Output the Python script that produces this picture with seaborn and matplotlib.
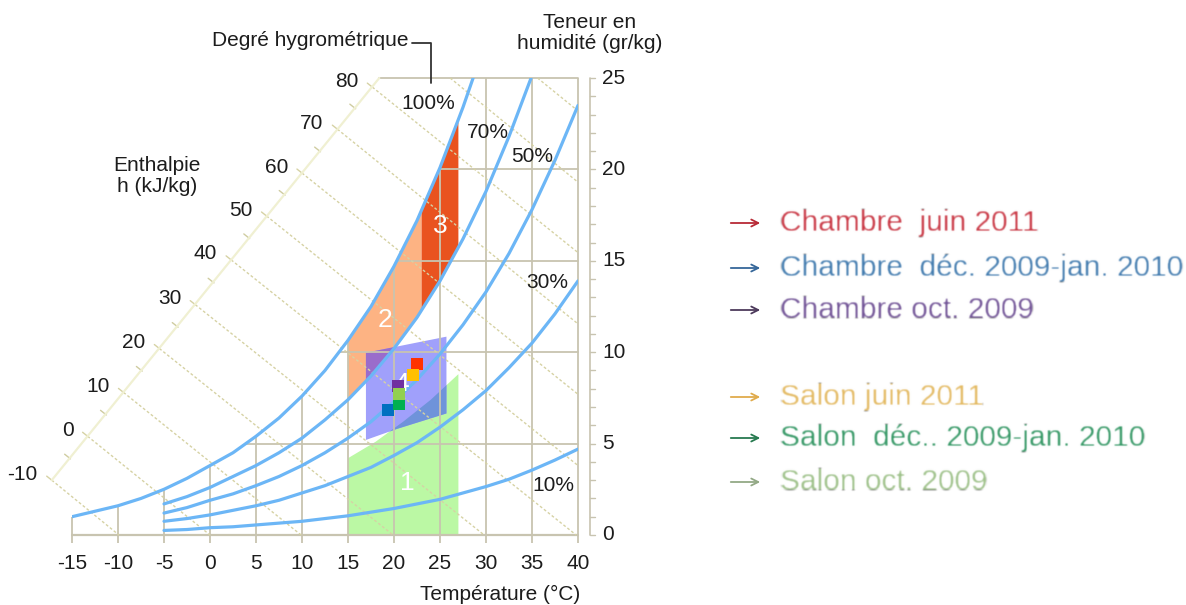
import numpy as np
import pandas as pd
import matplotlib
matplotlib.use("Agg")
import matplotlib.pyplot as plt
from matplotlib.patches import Polygon, FancyArrowPatch
from matplotlib.lines import Line2D
import seaborn as sns

# ---------------------------------------------------------------------------
# Relative-humidity curves: dry-bulb temperature (°C) vs moisture content (g/kg)
# ---------------------------------------------------------------------------
t_rh100 = [-15, -12.5, -10, -7.5, -5, -2.5, 0, 2.5, 5, 7.5, 10, 12.5, 15,
           17.5, 20, 22.5, 25, 27.5, 28.6]
w_rh100 = [1.0, 1.3, 1.6, 2.0, 2.5, 3.1, 3.8, 4.5, 5.4, 6.4, 7.6, 9.0, 10.65,
           12.5, 14.7, 17.2, 20.1, 23.4, 25.0]

t_rh = [-5, -2.5, 0, 2.5, 5, 7.5, 10, 12.5, 15, 17.5, 20, 22.5, 25, 27.5,
        30, 32.5, 35, 37.5, 40]
t_rh70 = [-5, -2.5, 0, 2.5, 5, 7.5, 10, 12.5, 15, 17.5, 20, 22.5, 25, 27.5,
          30, 32.5, 34.9]
w_rh70 = [1.7, 2.1, 2.6, 3.2, 3.8, 4.5, 5.3, 6.3, 7.4, 8.7, 10.2, 11.9, 13.9,
          16.2, 18.8, 21.8, 25.0]
w_rh50 = [1.2, 1.5, 1.9, 2.25, 2.7, 3.2, 3.8, 4.5, 5.3, 6.2, 7.3, 8.5, 9.9,
          11.5, 13.3, 15.4, 17.8, 20.5, 23.5]
w_rh30 = [0.75, 0.9, 1.1, 1.35, 1.6, 1.9, 2.3, 2.7, 3.2, 3.7, 4.35, 5.05, 5.9,
          6.85, 7.9, 9.15, 10.5, 12.1, 13.9]
w_rh10 = [0.25, 0.3, 0.4, 0.45, 0.55, 0.65, 0.75, 0.9, 1.05, 1.25, 1.45, 1.7,
          1.95, 2.3, 2.65, 3.05, 3.55, 4.1, 4.7]

# Constant-enthalpy lines (kJ/kg): start on the enthalpy scale, end on the frame
h_values = [-10, 0, 10, 20, 30, 40, 50, 60, 70, 80, 90, 100]
h_start_t = [-17.2, -13.3, -9.4, -5.5, -1.6, 2.3, 6.15, 10.0, 13.85, 17.65, 26.1, 35.6]
h_start_w = [3.0, 5.4, 7.8, 10.2, 12.6, 15.05, 17.45, 19.8, 22.2, 24.5, 25.0, 25.0]
h_end_t = [-9.9, 0.0, 9.9, 19.9, 29.8, 39.8, 40, 40, 40, 40, 40, 40]
h_end_w = [0, 0, 0, 0, 0, 0, 3.8, 7.7, 11.55, 15.45, 19.3, 23.2]
h_scale_ends = [(-17.2, 3.0), (18.4, 25.0)]

# Axis ticks
temp_ticks = [-15, -10, -5, 0, 5, 10, 15, 20, 25, 30, 35, 40]
moist_ticks = [0, 5, 10, 15, 20, 25]

# Comfort zones 1-4 (temperature, moisture) outlines
zone1_t = [15, 15, 18, 21, 24, 27, 27]
zone1_w = [0, 4.2, 5.1, 6.2, 7.4, 8.8, 0]
zone2_t = [15, 15, 17.5, 20, 22.5, 23, 23, 22.5, 20, 17.5]
zone2_w = [7.4, 10.65, 12.5, 14.7, 17.2, 17.7, 12.3, 11.9, 10.2, 8.7]
zone3_t = [23, 23, 25, 27, 27, 25]
zone3_w = [12.3, 17.7, 20.1, 22.6, 15.7, 13.9]
zone4_t = [16.95, 25.7, 25.7, 20.3, 16.95]
zone4_w = [9.97, 10.85, 6.65, 5.8, 5.2]

# Measured mean conditions per room and period
series = ["Chambre  juin 2011", "Chambre  déc. 2009-jan. 2010", "Chambre oct. 2009",
          "Salon juin 2011", "Salon  déc.. 2009-jan. 2010", "Salon oct. 2009"]
series_t = [22.45, 19.3, 20.4, 22.05, 20.55, 20.55]
series_w = [9.35, 6.85, 8.17, 8.77, 7.18, 7.71]
marker_colors = ["#ff3300", "#0070c0", "#7030a0", "#ffc000", "#00b050", "#92d050"]
legend_text_colors = ["#c8323f", "#3d78ad", "#6e4f94", "#e3b85e", "#2f9561", "#9cc087"]
legend_arrow_colors = ["#b82a36", "#36679a", "#4d3a5c", "#e0ab4c", "#277a50", "#93a986"]

# ---------------------------------------------------------------------------
sns.set_theme(style="white")
plt.rcParams["font.family"] = ["Liberation Sans", "DejaVu Sans"]

W, H = 1186, 605
fig = plt.figure(figsize=(W / 100, H / 100), dpi=100)
fig.patch.set_facecolor("white")


def fx(px):
    return px / W


def fy(py):
    return 1 - py / H


def soften(im, dpi, sigma=0.8):
    """Gaussian blur used as an agg filter for the legend captions."""
    r = int(np.ceil(3 * sigma))
    k = np.exp(-0.5 * (np.arange(-r, r + 1) / sigma) ** 2)
    k /= k.sum()
    pad = np.pad(im, ((r, r), (r, r), (0, 0)), mode="constant")
    out = np.zeros_like(pad)
    for i, kv in enumerate(k):
        out += kv * np.roll(pad, i - r, axis=0)
    out2 = np.zeros_like(out)
    for i, kv in enumerate(k):
        out2 += kv * np.roll(out, i - r, axis=1)
    return out2, -r, -r


ax = fig.add_axes([fx(72), 70 / H, 506 / W, 457 / H])
ax.set_xlim(-15, 40)
ax.set_ylim(0, 25)
ax.axis("off")

txt = "#1c1c1c"
grid_c = "#c8c4b0"
enth_c = "#d6d2a4"
curve_c = "#6cb6f6"

# zones
green = Polygon(list(zip(zone1_t, zone1_w)), closed=True, fc="#bbf8a4", ec="none", zorder=1)
orange = Polygon(list(zip(zone2_t, zone2_w)), closed=True, fc="#fdb383", ec="none", zorder=1)
dark = Polygon(list(zip(zone3_t, zone3_w)), closed=True, fc="#e9531f", ec="none", zorder=1)
lav = Polygon(list(zip(zone4_t, zone4_w)), closed=True, fc="#a0a0fb", ec="none", zorder=1.2)
for p in (green, orange, dark, lav):
    ax.add_patch(p)
# overlaps of zone 4 with zones 1 and 2
ov1 = Polygon(list(zip(zone1_t, zone1_w)), closed=True, fc="#6f93da", ec="none", zorder=1.3)
ov2 = Polygon(list(zip(zone2_t, zone2_w)), closed=True, fc="#9a6ccb", ec="none", zorder=1.3)
for p in (ov1, ov2):
    ax.add_patch(p)
    p.set_clip_path(lav)

# frame and grid
top_at = dict(zip(t_rh100, w_rh100))
for t in temp_ticks:
    top = top_at.get(t, 25.0) if t < 28.6 else 25.0
    ax.plot([t, t], [-0.45, top], color=grid_c, lw=1.3, zorder=2, clip_on=False,
            solid_capstyle="butt")
for w in [5, 10, 15, 20]:
    t0 = np.interp(w, w_rh100, t_rh100)
    ax.plot([t0, 40], [w, w], color=grid_c, lw=1.3, zorder=2, clip_on=False)
ax.plot([-15, 40], [0, 0], color=grid_c, lw=1.6, zorder=2, clip_on=False)
ax.plot([h_scale_ends[1][0], 40], [25, 25], color=grid_c, lw=1.3, zorder=2, clip_on=False)

# enthalpy lines and scale
for i, h in enumerate(h_values):
    ax.plot([h_start_t[i], h_end_t[i]], [h_start_w[i], h_end_w[i]], color=enth_c,
            lw=1.0, ls=(0, (2, 1.6)), zorder=2, clip_on=False)
ax.plot([h_scale_ends[0][0], h_scale_ends[1][0]], [h_scale_ends[0][1], h_scale_ends[1][1]],
        color="#f0f0d2", lw=1.6, zorder=2.1, clip_on=False)
tick_dt, tick_dw = -0.55, 0.22
lab_t = h_start_t[:10]
lab_w = h_start_w[:10]
for i in range(10):
    ax.plot([lab_t[i], lab_t[i] + tick_dt], [lab_w[i], lab_w[i] + tick_dw], color=enth_c,
            lw=1.0, zorder=2, clip_on=False)
    ax.annotate(str(h_values[i]), xy=(lab_t[i], lab_w[i]), xytext=(-14, 6),
                textcoords="offset pixels", ha="right", va="center", fontsize=15,
                color=txt, annotation_clip=False)
    if i < 9:
        mt = (lab_t[i] + lab_t[i + 1]) / 2
        mw = (lab_w[i] + lab_w[i + 1]) / 2
        ax.plot([mt - 0.15 * tick_dt, mt + tick_dt], [mw - 0.15 * tick_dw, mw + tick_dw],
                color="#cfcca0", lw=1.0, zorder=2, clip_on=False)

# relative humidity curves
curves = pd.concat([
    pd.DataFrame({"t": t_rh100, "w": w_rh100, "rh": "100%"}),
    pd.DataFrame({"t": t_rh70, "w": w_rh70, "rh": "70%"}),
    pd.DataFrame({"t": t_rh, "w": w_rh50, "rh": "50%"}),
    pd.DataFrame({"t": t_rh, "w": w_rh30, "rh": "30%"}),
    pd.DataFrame({"t": t_rh, "w": w_rh10, "rh": "10%"}),
])
sns.lineplot(data=curves, x="t", y="w", units="rh", estimator=None, sort=False,
             color=curve_c, lw=2.3, ax=ax, legend=False, zorder=3)

# right moisture scale
xr = 41.3
ax.plot([xr, xr], [0, 25], color=grid_c, lw=1.2, zorder=2, clip_on=False)
for w in range(26):
    ax.plot([xr, xr + 0.55], [w, w], color=grid_c, lw=1.0, zorder=2, clip_on=False)
for w in moist_ticks:
    ax.text(xr + 1.3, w, str(w), ha="left", va="center", fontsize=15, color=txt)
for t in temp_ticks:
    ax.text(t, -1.55, str(t), ha="center", va="center", fontsize=15, color=txt)

# curve names
for lab, (t, w) in {"100%": (23.7, 23.6), "70%": (30.2, 22.0), "50%": (35.0, 20.7),
                    "30%": (36.7, 13.8), "10%": (37.3, 2.7)}.items():
    ax.text(t, w, lab, ha="center", va="center", fontsize=15, color=txt, zorder=4)

# zone numbers
for lab, (t, w) in {"1": (21.4, 2.85), "2": (19.0, 11.75), "3": (25.0, 16.9),
                    "4": (20.85, 8.25)}.items():
    ax.text(t, w, lab, ha="center", va="center", fontsize=19, color="white", zorder=4)

# measurements
pts = pd.DataFrame({"t": series_t, "w": series_w, "s": series})
sns.scatterplot(data=pts, x="t", y="w", hue="s", palette=marker_colors, marker="s",
                s=75, linewidth=0, ax=ax, legend=False, zorder=5)
ax.set_xlabel("")
ax.set_ylabel("")
ax.axis("off")

# titles
fig.text(fx(408), fy(40), "Degré hygrométrique", ha="right", va="center", fontsize=15, color=txt)
fig.add_artist(Line2D([fx(412), fx(430.5), fx(430.5)], [fy(43), fy(43), fy(83)],
                      color="#333333", lw=1.3))
fig.text(fx(157), fy(176), "Enthalpie\nh (kJ/kg)", ha="center", va="center", fontsize=15,
         color=txt, linespacing=1.15)
fig.text(fx(590), fy(33), "Teneur en\nhumidité (gr/kg)", ha="center", va="center",
         fontsize=15, color=txt, linespacing=1.15)
fig.text(fx(500), fy(594), "Température (°C)", ha="center", va="center", fontsize=15, color=txt)

# legend
leg_y = [223, 268, 310, 397, 438, 482]
for i, name in enumerate(series):
    arr = FancyArrowPatch((fx(728), fy(leg_y[i])), (fx(763), fy(leg_y[i])),
                          transform=fig.transFigure,
                          arrowstyle="->,head_length=5,head_width=2.5",
                          mutation_scale=1, color=legend_arrow_colors[i], lw=1.3)
    arr.set_agg_filter(soften)
    fig.add_artist(arr)
    t_ = fig.text(fx(780), fy(leg_y[i]), name, ha="left", va="center", fontsize=21.5,
                  color=legend_text_colors[i])
    t_.set_agg_filter(soften)

fig.savefig("out.png", dpi=100, facecolor="white")
